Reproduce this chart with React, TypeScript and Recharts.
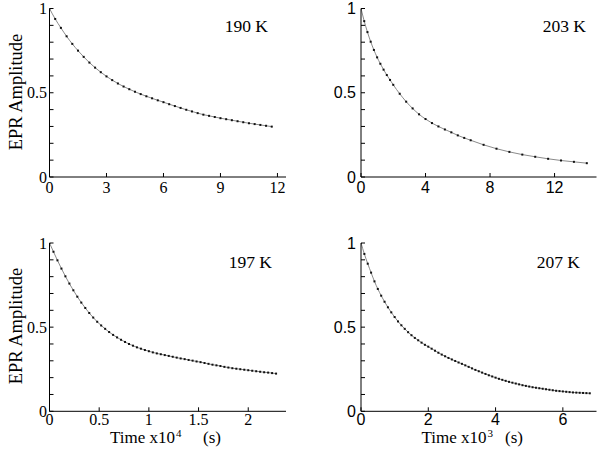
import { ComposedChart, Line, XAxis, YAxis } from "recharts";

// 190 K, time in units of 10^4 s
const t190 = [
	0, 0.3, 0.6, 0.9, 1.2, 1.5, 1.8, 2.1, 2.4, 2.7, 3.0, 3.3, 3.6, 3.9, 4.2, 4.5, 4.8, 5.1, 5.4, 5.7,
	6.0, 6.3, 6.6, 6.9, 7.2, 7.5, 7.8, 8.1, 8.4, 8.7, 9.0, 9.3, 9.6, 9.9, 10.2, 10.5, 10.8, 11.1, 11.4, 11.7,
];
const a190 = [
	1.0, 0.938, 0.885, 0.835, 0.79, 0.75, 0.713, 0.679, 0.649, 0.622, 0.597, 0.575, 0.555, 0.537, 0.521,
	0.506, 0.492, 0.479, 0.467, 0.455, 0.444, 0.432, 0.421, 0.41, 0.399, 0.389, 0.379, 0.37, 0.363, 0.356,
	0.349, 0.343, 0.337, 0.331, 0.325, 0.319, 0.314, 0.309, 0.304, 0.299,
];

// 203 K, time in units of 10^3 s
const t203 = [
	0, 0.2, 0.4, 0.6, 0.8, 1.0, 1.2, 1.4, 1.6, 1.8, 2.0, 2.4, 2.8, 3.2, 3.6, 4.0, 4.4, 4.8, 5.2, 5.6, 6.0,
	6.4, 6.8, 7.6, 8.4, 9.2, 10.0, 10.8, 11.6, 12.4, 13.2, 14.0,
];
const a203 = [
	1.0, 0.925, 0.86, 0.803, 0.754, 0.71, 0.672, 0.637, 0.605, 0.576, 0.547, 0.494, 0.447, 0.407, 0.372,
	0.344, 0.32, 0.3, 0.282, 0.265, 0.247, 0.232, 0.218, 0.191, 0.168, 0.149, 0.133, 0.12, 0.108, 0.098,
	0.09, 0.082,
];

// 197 K, time in units of 10^4 s
const t197 = [
	0, 0.04, 0.08, 0.12, 0.16, 0.2, 0.24, 0.28, 0.32, 0.36, 0.4, 0.44, 0.48, 0.52, 0.56, 0.6, 0.64, 0.68,
	0.72, 0.76, 0.8, 0.84, 0.88, 0.92, 0.96, 1.0, 1.04, 1.08, 1.12, 1.16, 1.2, 1.24, 1.28, 1.32, 1.36, 1.4,
	1.44, 1.48, 1.52, 1.56, 1.6, 1.64, 1.68, 1.72, 1.76, 1.8, 1.84, 1.88, 1.92, 1.96, 2.0, 2.04, 2.08, 2.12,
	2.16, 2.2, 2.24, 2.28,
];
const a197 = [
	1.0, 0.948, 0.897, 0.848, 0.802, 0.759, 0.719, 0.681, 0.646, 0.614, 0.584, 0.557, 0.532, 0.51, 0.49,
	0.471, 0.454, 0.439, 0.425, 0.412, 0.4, 0.39, 0.38, 0.372, 0.364, 0.357, 0.35, 0.344, 0.339, 0.334,
	0.329, 0.324, 0.319, 0.314, 0.31, 0.305, 0.301, 0.296, 0.292, 0.287, 0.282, 0.277, 0.273, 0.269, 0.264,
	0.26, 0.256, 0.253, 0.25, 0.247, 0.244, 0.241, 0.238, 0.235, 0.232, 0.23, 0.227, 0.224,
];

// 207 K, time in units of 10^3 s
const t207 = [
	0, 0.1, 0.2, 0.3, 0.4, 0.5, 0.6, 0.7, 0.8, 0.9, 1.0, 1.1, 1.2, 1.3, 1.4, 1.5, 1.6, 1.7, 1.8, 1.9, 2.0,
	2.1, 2.2, 2.3, 2.4, 2.5, 2.6, 2.7, 2.8, 2.9, 3.0, 3.1, 3.2, 3.3, 3.4, 3.5, 3.6, 3.7, 3.8, 3.9, 4.0, 4.1,
	4.2, 4.3, 4.4, 4.5, 4.6, 4.7, 4.8, 4.9, 5.0, 5.1, 5.2, 5.3, 5.4, 5.5, 5.6, 5.7, 5.8, 5.9, 6.0, 6.1, 6.2,
	6.3, 6.4, 6.5, 6.6, 6.7, 6.8,
];
const a207 = [
	1.0, 0.935, 0.877, 0.824, 0.772, 0.727, 0.687, 0.651, 0.618, 0.588, 0.56, 0.534, 0.511, 0.49, 0.47,
	0.452, 0.436, 0.422, 0.408, 0.395, 0.384, 0.372, 0.36, 0.348, 0.337, 0.327, 0.317, 0.308, 0.299, 0.29,
	0.282, 0.273, 0.264, 0.255, 0.246, 0.238, 0.23, 0.222, 0.214, 0.207, 0.2, 0.193, 0.187, 0.181, 0.175,
	0.17, 0.165, 0.16, 0.155, 0.151, 0.147, 0.143, 0.14, 0.137, 0.134, 0.131, 0.128, 0.125, 0.122, 0.12,
	0.118, 0.116, 0.114, 0.112, 0.111, 0.11, 0.109, 0.108, 0.107,
];

const yTicks = [0, 0.1, 0.2, 0.3, 0.4, 0.5, 0.6, 0.7, 0.8, 0.9, 1];
const yLabelTicks = [0, 0.5, 1];

const SERIF = "Liberation Serif";
const SANS = "Liberation Sans";

function SmallDot(props: any) {
	const { cx, cy, index } = props;
	if (cx == null || cy == null) return <g key={index} />;
	return <rect key={index} x={cx - 1} y={cy - 1} width={2} height={2} fill="#111" />;
}

type Box = { x0: number; y0: number; x1: number; y1: number };

type PanelProps = {
	left: number;
	top: number;
	width: number;
	height: number;
	plot: Box;
	times: number[];
	amps: number[];
	xMax: number;
	xTicks: number[];
	font: string;
	yGap: number;
	xGap: number;
};

function Panel({ left, top, width, height, plot, times, amps, xMax, xTicks, font, yGap, xGap }: PanelProps) {
	const rows = times.map((t, i) => ({ t, a: amps[i] }));
	const tickStyle = { fill: "#000", fontSize: 16, fontFamily: font, style: { fontFamily: font } };
	const line = { stroke: "#000", strokeWidth: 1 };
	return (
		<div style={{ position: "absolute", left, top }}>
			<ComposedChart
				width={width}
				height={height}
				data={rows}
				margin={{ top: plot.y0 - top, right: left + width - plot.x1, left: 0, bottom: 0 }}
			>
				<XAxis
					xAxisId="b"
					dataKey="t"
					type="number"
					domain={[0, xMax]}
					ticks={xTicks}
					interval={0}
					allowDataOverflow
					height={top + height - plot.y1}
					tickSize={-4}
					tickMargin={xGap}
					tick={tickStyle}
					axisLine={line}
					tickLine={line}
				/>
				<XAxis
					xAxisId="t"
					orientation="top"
					type="number"
					domain={[0, xMax]}
					ticks={xTicks}
					interval={0}
					allowDataOverflow
					height={0}
					tickSize={-4}
					tick={false}
					axisLine={line}
					tickLine={line}
				/>
				<YAxis
					yAxisId="l"
					type="number"
					domain={[0, 1]}
					ticks={yTicks}
					interval={0}
					allowDataOverflow
					width={plot.x0 - left}
					tickSize={-4}
					tickMargin={yGap}
					tick={tickStyle}
					tickFormatter={(v: number) => (yLabelTicks.includes(v) ? String(v) : "")}
					axisLine={line}
					tickLine={line}
				/>
				<YAxis
					yAxisId="r"
					orientation="right"
					type="number"
					domain={[0, 1]}
					ticks={yTicks}
					interval={0}
					allowDataOverflow
					width={0}
					tickSize={-4}
					tick={false}
					axisLine={line}
					tickLine={line}
				/>
				<Line
					xAxisId="b"
					yAxisId="l"
					dataKey="a"
					type="monotone"
					stroke="#8a8a8a"
					strokeWidth={1}
					dot={SmallDot}
					activeDot={false}
					isAnimationActive={false}
				/>
			</ComposedChart>
		</div>
	);
}

export default function App() {
	return (
		<div style={{ position: "fixed", left: 0, top: 0, width: 601, height: 459, background: "#fff" }}>
			<Panel
				left={0}
				top={0}
				width={300}
				height={205}
				plot={{ x0: 49.5, y0: 8.5, x1: 286, y1: 177 }}
				times={t190}
				amps={a190}
				xMax={12.45}
				xTicks={[0, 3, 6, 9, 12]}
				font={SERIF}
				yGap={6.5}
				xGap={9}
			/>
			<Panel
				left={300}
				top={0}
				width={301}
				height={205}
				plot={{ x0: 361, y0: 8.5, x1: 596.5, y1: 177 }}
				times={t203}
				amps={a203}
				xMax={14.6}
				xTicks={[0, 4, 8, 12]}
				font={SANS}
				yGap={9}
				xGap={9}
			/>
			<Panel
				left={0}
				top={230}
				width={300}
				height={229}
				plot={{ x0: 49.5, y0: 243, x1: 286, y1: 411.3 }}
				times={t197}
				amps={a197}
				xMax={2.38}
				xTicks={[0, 0.5, 1, 1.5, 2]}
				font={SERIF}
				yGap={6.5}
				xGap={6.5}
			/>
			<Panel
				left={300}
				top={230}
				width={301}
				height={229}
				plot={{ x0: 361, y0: 243, x1: 596.5, y1: 411.3 }}
				times={t207}
				amps={a207}
				xMax={7}
				xTicks={[0, 2, 4, 6]}
				font={SANS}
				yGap={9}
				xGap={6.5}
			/>
			<svg
				width={601}
				height={459}
				style={{ position: "absolute", left: 0, top: 0, pointerEvents: "none", fontFamily: SERIF }}
				fill="#000"
			>
				<text x={268} y={32.3} fontSize={17.5} textAnchor="end">190 K</text>
				<text x={586} y={32.3} fontSize={17.5} textAnchor="end">203 K</text>
				<text x={272} y={268.3} fontSize={17.5} textAnchor="end">197 K</text>
				<text x={580} y={267.7} fontSize={17.5} textAnchor="end">207 K</text>
				<text x={21.5} y={92} fontSize={18.5} textAnchor="middle" transform="rotate(-90 21.5 92)">
					EPR Amplitude
				</text>
				<text x={21.5} y={326} fontSize={18.5} textAnchor="middle" transform="rotate(-90 21.5 326)">
					EPR Amplitude
				</text>
				<text x={110} y={443} fontSize={17}>
					Time x10
					<tspan dx={1} dy={-6} fontSize={11}>4</tspan>
					<tspan x={203} dy={6}>(s)</tspan>
				</text>
				<text x={421.5} y={443} fontSize={17}>
					Time x10
					<tspan dx={1} dy={-6} fontSize={11}>3</tspan>
					<tspan x={505} dy={6}>(s)</tspan>
				</text>
			</svg>
		</div>
	);
}
